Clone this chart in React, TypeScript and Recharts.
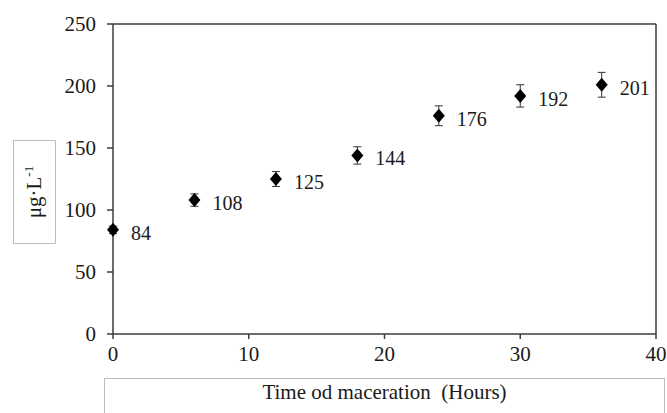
import * as React from 'react'
import {
  ScatterChart,
  Scatter,
  XAxis,
  YAxis,
  ErrorBar,
  LabelList,
  ReferenceLine,
} from 'recharts'

const hours  = [0, 6, 12, 18, 24, 30, 36]
const values = [84, 108, 125, 144, 176, 192, 201]
const errors = [3, 5, 6, 7, 8, 9, 10]
const xTicks = [0, 10, 20, 30, 40]
const yTicks = [0, 50, 100, 150, 200, 250]

const data = hours.map((h, i) => ({ x: h, y: values[i], err: errors[i] }))

const FONT = '"Liberation Serif", "Times New Roman", serif'
const AXIS = '#3c3c3c'
const INK  = '#1a1a1a'

function Diamond(props: any) {
  const { cx, cy } = props
  if (cx == null || cy == null) return null
  const w = 6, h = 7
  return (
    <polygon
      points={`${cx},${cy - h} ${cx + w},${cy} ${cx},${cy + h} ${cx - w},${cy}`}
      fill="#000"
    />
  )
}

function PointLabel(props: any) {
  const { x, y, width, height, value } = props
  const cx = x + (width || 0) / 2
  const cy = y + (height || 0) / 2
  return (
    <text
      x={cx + 18}
      y={cy + 3}
      dominantBaseline="central"
      fontFamily={FONT}
      fontSize={20}
      fill={INK}
    >
      {value}
    </text>
  )
}

const tickStyle = { fontFamily: FONT, fontSize: 21, fill: INK }

export default function App() {
  return (
    <div style={{ position: 'absolute', left: 0, top: 0, width: 667, height: 413, background: '#fff' }}>
      <ScatterChart
        width={667}
        height={413}
        margin={{ top: 24, right: 11, bottom: 0, left: 53 }}
      >
        <XAxis
          type="number"
          dataKey="x"
          domain={[0, 40]}
          ticks={xTicks}
          interval={0}
          height={79}
          stroke={AXIS}
          strokeWidth={1.5}
          tickSize={5}
          tickMargin={7}
          tick={tickStyle}
          tickLine={{ stroke: AXIS }}
        />
        <YAxis
          type="number"
          dataKey="y"
          domain={[0, 250]}
          ticks={yTicks}
          interval={0}
          width={60}
          stroke={AXIS}
          strokeWidth={1.5}
          tickSize={6}
          tickMargin={11}
          tick={tickStyle}
          tickLine={{ stroke: AXIS }}
        />
        <ReferenceLine y={250} stroke={AXIS} strokeWidth={1.5} />
        <ReferenceLine x={40} stroke={AXIS} strokeWidth={1.5} />
        <Scatter data={data} shape={<Diamond />} isAnimationActive={false}>
          <ErrorBar dataKey="err" direction="y" width={4} stroke="#333" strokeWidth={1} />
          <LabelList dataKey="y" content={<PointLabel />} />
        </Scatter>
      </ScatterChart>

      <div
        style={{
          position: 'absolute',
          left: 13,
          top: 140,
          width: 43,
          height: 104,
          border: '1px solid #bdbdbd',
          boxSizing: 'border-box',
          display: 'flex',
          alignItems: 'center',
          justifyContent: 'center',
        }}
      >
        <div
          style={{
            transform: 'rotate(-90deg)',
            whiteSpace: 'nowrap',
            fontFamily: FONT,
            fontSize: 21,
            color: INK,
          }}
        >
          μg·L<sup style={{ fontSize: 13 }}>-1</sup>
        </div>
      </div>

      <div
        style={{
          position: 'absolute',
          left: 104,
          top: 378,
          width: 561,
          height: 40,
          border: '1px solid #bdbdbd',
          boxSizing: 'border-box',
          textAlign: 'center',
          fontFamily: FONT,
          fontSize: 21,
          color: INK,
          paddingTop: 1,
          whiteSpace: 'pre',
        }}
      >
        {'Time od maceration  (Hours)'}
      </div>
    </div>
  )
}
